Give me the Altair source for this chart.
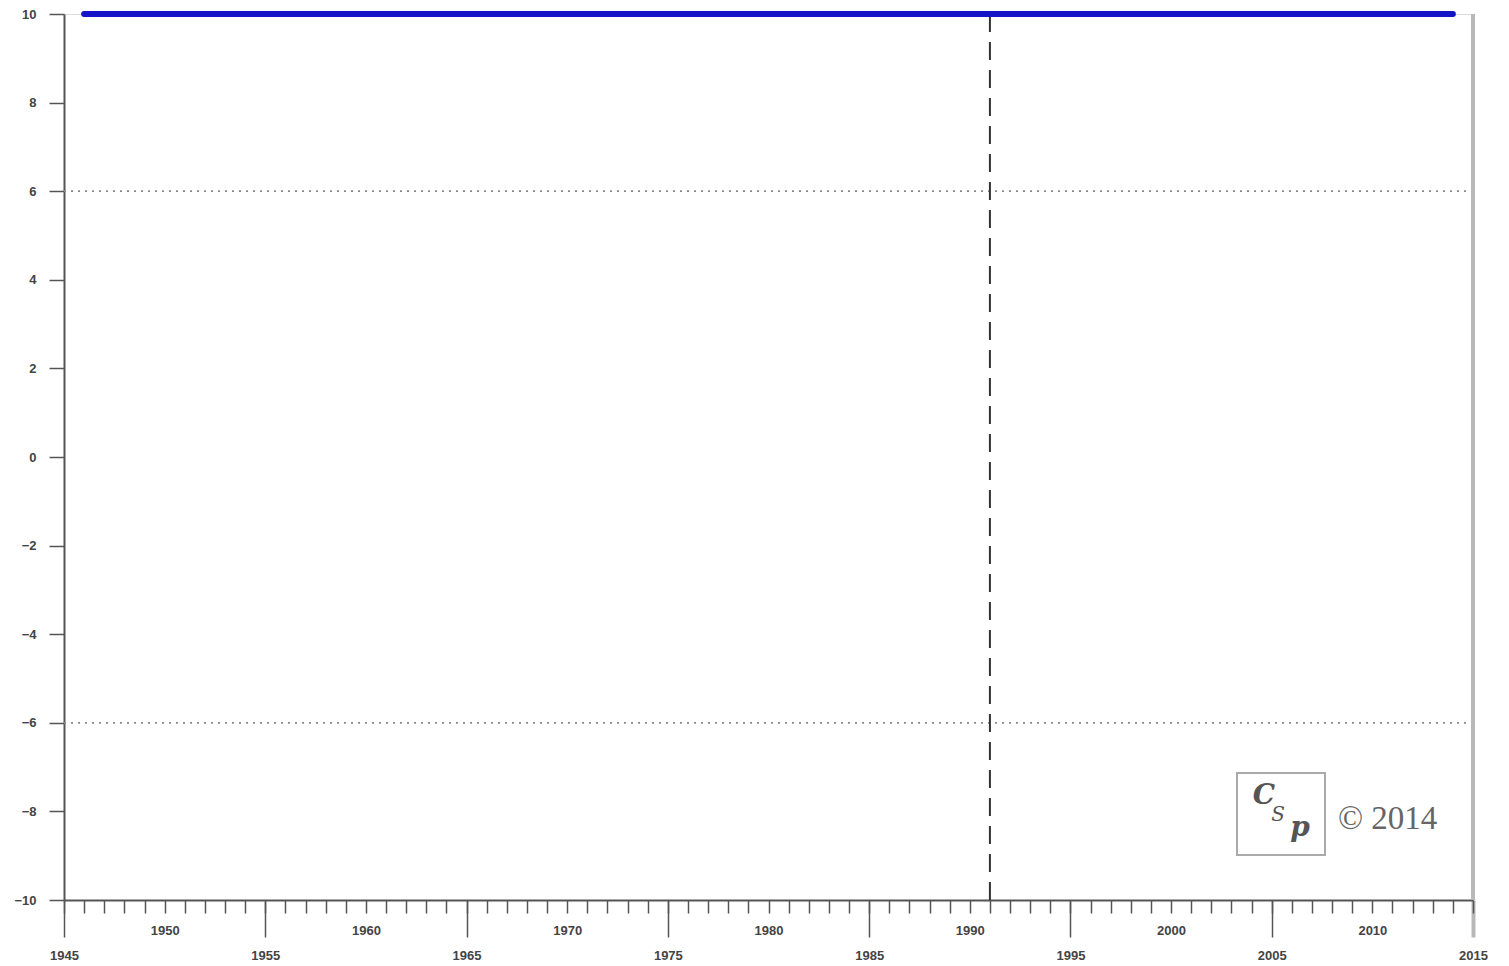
import altair as alt
import pandas as pd

# data
line_years = [1946, 2014]
line_values = [10, 10]
event_year = [1991]
ref_levels = [6, -6]
frame_year = [2015]
x_domain = [1945, 2015]
y_domain = [-10, 10]
minor_tick_years = list(range(1945, 2016))
upper_label_years = [1950, 1960, 1970, 1980, 1990, 2000, 2010]
lower_label_years = [1945, 1955, 1965, 1975, 1985, 1995, 2005, 2015]
y_tick_values = list(range(-10, 11, 2))

W, H = 1409, 886

line_df = pd.DataFrame({"year": line_years, "value": line_values})
event_df = pd.DataFrame({"year": event_year})
ref_df = pd.DataFrame({"value": ref_levels})
frame_df = pd.DataFrame({"year": frame_year})

xscale = alt.Scale(domain=x_domain, nice=False, zero=False)
yscale = alt.Scale(domain=y_domain, nice=False, zero=False)

label_style = dict(
    labelFont="Liberation Sans",
    labelFontSize=13,
    labelFontWeight="bold",
    labelColor="#444444",
)

x_axis_minor = alt.Axis(
    orient="bottom",
    values=minor_tick_years,
    title=None,
    grid=False,
    labelExpr="indexof(" + str(upper_label_years) + ", datum.value) >= 0 ? datum.label : ''",
    format="d",
    labelOverlap=False,
    labelFlush=False,
    tickSize=13,
    tickColor="#555555",
    tickWidth=1.5,
    labelPadding=17,
    labelBaseline="middle",
    domainColor="#555555",
    domainWidth=2,
    **label_style,
)

x_axis_major = alt.Axis(
    orient="bottom",
    values=lower_label_years,
    title=None,
    grid=False,
    format="d",
    labelOverlap=False,
    labelFlush=False,
    tickSize=37,
    tickColor={"condition": {"test": "datum.value == 2015", "value": "#b8b8b8"}, "value": "#555555"},
    tickWidth={"condition": {"test": "datum.value == 2015", "value": 4}, "value": 1.5},
    labelPadding=18,
    labelBaseline="middle",
    domain=False,
    **label_style,
)

y_axis = alt.Axis(
    values=y_tick_values,
    title=None,
    grid=False,
    tickSize=15,
    tickColor="#555555",
    tickWidth=1.5,
    labelPadding=13,
    domainColor="#555555",
    domainWidth=2,
    **label_style,
)

base_line = alt.Chart(line_df).mark_line(color="#1515c8", strokeWidth=6, strokeCap="round").encode(
    x=alt.X("year:Q", scale=xscale, axis=x_axis_minor),
    y=alt.Y("value:Q", scale=yscale, axis=y_axis),
)

refs = alt.Chart(ref_df).mark_rule(color="#8a8a8a", strokeWidth=1.8, strokeDash=[2, 5]).encode(
    y=alt.Y("value:Q", scale=yscale, axis=y_axis),
)

event = alt.Chart(event_df).mark_rule(color="#333333", strokeWidth=2, strokeDash=[18, 10]).encode(
    x=alt.X("year:Q", scale=xscale, axis=None),
)

frame = alt.Chart(frame_df).mark_rule(color="#b8b8b8", strokeWidth=4).encode(
    x=alt.X("year:Q", scale=xscale, axis=x_axis_major),
)

# watermark logo
logo_box = alt.Chart(pd.DataFrame({"k": [0]})).mark_rect(
    fill="white", stroke="#aaaaaa", strokeWidth=2
).encode(
    x=alt.value(1173), x2=alt.value(1261), y=alt.value(759), y2=alt.value(841)
)
logo_c = alt.Chart(pd.DataFrame({"t": ["C"]})).mark_text(
    font="DejaVu Serif", fontSize=28, fontStyle="italic", fontWeight="bold", color="#555555"
).encode(text="t:N", x=alt.value(1200), y=alt.value(782))
logo_s = alt.Chart(pd.DataFrame({"t": ["S"]})).mark_text(
    font="DejaVu Serif", fontSize=20, fontStyle="italic", color="#555555"
).encode(text="t:N", x=alt.value(1214), y=alt.value(801))
logo_p = alt.Chart(pd.DataFrame({"t": ["p"]})).mark_text(
    font="DejaVu Serif", fontSize=28, fontStyle="italic", fontWeight="bold", color="#555555"
).encode(text="t:N", x=alt.value(1236), y=alt.value(814))
copyright_txt = alt.Chart(pd.DataFrame({"t": ["© 2014"]})).mark_text(
    font="Liberation Serif", fontSize=33, color="#666666", align="left"
).encode(text="t:N", x=alt.value(1274), y=alt.value(805))

chart = alt.layer(
    refs, event, frame, base_line, logo_box, logo_c, logo_s, logo_p, copyright_txt
).resolve_axis(x="independent").properties(
    width=W, height=H,
    autosize=alt.AutoSizeParams(type="none"),
    padding={"left": 56, "top": 6, "right": 28, "bottom": 64},
).configure_view(stroke=None).configure(background="white")

chart.save("out.html", embed_options={"renderer": "svg", "actions": False})
